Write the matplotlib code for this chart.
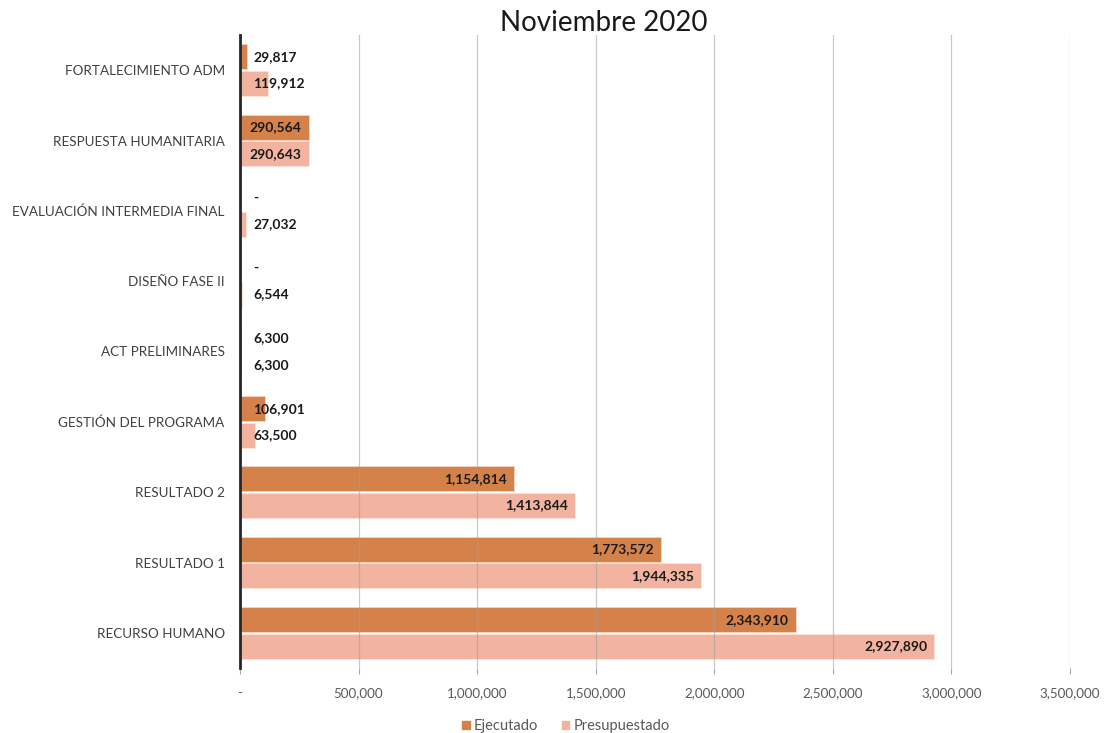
import numpy as np
import matplotlib.pyplot as plt
from matplotlib.ticker import FuncFormatter

# data, bottom to top as drawn
categories = ['RECURSO HUMANO', 'RESULTADO 1', 'RESULTADO 2', 'GESTIÓN DEL PROGRAMA',
              'ACT PRELIMINARES', 'DISEÑO FASE II', 'EVALUACIÓN INTERMEDIA FINAL',
              'RESPUESTA HUMANITARIA', 'FORTALECIMIENTO ADM']
ejecutado = [2343910, 1773572, 1154814, 106901, 6300, 0, 0, 290564, 29817]
presupuestado = [2927890, 1944335, 1413844, 63500, 6300, 6544, 27032, 290643, 119912]
xticks = [0, 500000, 1000000, 1500000, 2000000, 2500000, 3000000, 3500000]

col_ej = '#D5824A'
col_pr = '#F2B3A0'

plt.rcParams['font.family'] = ['Lato', 'DejaVu Sans']

fig = plt.figure(figsize=(11.12, 7.33), dpi=100)
ax = fig.add_axes([240 / 1112, 65 / 733, 830 / 1112, 633 / 733])

y = np.arange(len(categories))
h = 0.355
gap = 0.02
ax.barh(y + h / 2 + gap / 2, ejecutado, height=h, color=col_ej, edgecolor='#F4D6C4', linewidth=0.6, zorder=2)
ax.barh(y - h / 2 - gap / 2, presupuestado, height=h, color=col_pr, edgecolor='#FBE3DA', linewidth=0.6, zorder=2)

ax.set_xlim(0, 3500000)
ax.set_ylim(-0.5, len(categories) - 0.5)
ax.set_xticks(xticks)
ax.xaxis.set_major_formatter(FuncFormatter(lambda v, p: '-' if v == 0 else f'{int(v):,}'))
ax.set_yticks(y)
ax.set_yticklabels(categories)
ax.tick_params(axis='y', length=0, pad=11, labelsize=9.7, labelcolor='#404040')
ax.tick_params(axis='x', length=4, color='#A6A6A6', pad=10, labelsize=9.6, labelcolor='#595959')

ax.grid(axis='x', color='#9E9E9E', linewidth=0.9, alpha=0.55, zorder=3)
ax.set_axisbelow(False)
for s in ['top', 'right', 'bottom']:
    ax.spines[s].set_visible(False)
ax.spines['left'].set_color('#262626')
ax.spines['left'].set_linewidth(2)
ax.spines['left'].set_zorder(4)

small_x = 55000


def add_labels(vals, offset):
    for yi, v in zip(y, vals):
        txt = '-' if v == 0 else f'{v:,}'
        if v > 250000:
            ax.text(v - 30000, yi + offset, txt, ha='right', va='center',
                    fontsize=10, fontweight='bold', color='#1a1a1a', zorder=5)
        else:
            ax.text(small_x, yi + offset, txt, ha='left', va='center',
                    fontsize=10, fontweight='bold', color='#1a1a1a', zorder=5)


add_labels(ejecutado, h / 2 + gap / 2)
add_labels(presupuestado, -h / 2 - gap / 2)

fig.text(604 / 1112, 1 - 23 / 733, 'Noviembre 2020', ha='center', va='center',
         fontsize=20, color='#1a1a1a')

handles = [plt.Rectangle((0, 0), 1, 1, color=col_ej), plt.Rectangle((0, 0), 1, 1, color=col_pr)]
fig.legend(handles, ['Ejecutado', 'Presupuestado'], loc='center', bbox_to_anchor=(566 / 1112, 1 - 726 / 733),
           ncol=2, frameon=False, fontsize=10.5, labelcolor='#595959', handlelength=0.5, handleheight=0.5,
           handletextpad=0.3, columnspacing=1.6)

fig.savefig('out.png', dpi=100)
